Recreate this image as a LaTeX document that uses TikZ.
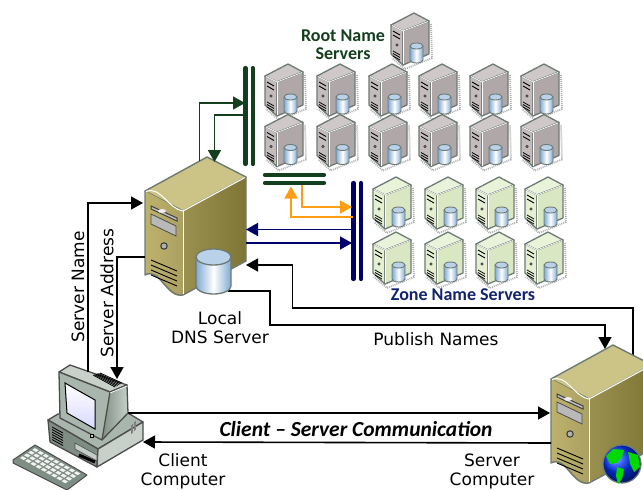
\documentclass[tikz,border=0pt]{standalone}
\usepackage{fontspec}
\setmainfont{DejaVu Sans}
\newfontfamily\headfont{Carlito}
\usetikzlibrary{arrows.meta,calc}
\definecolor{gdark}{HTML}{143F1E}
\definecolor{navyb}{HTML}{00006B}
\definecolor{zonetext}{HTML}{12246E}
\definecolor{orangeb}{HTML}{FF9E14}
\definecolor{edgeg}{HTML}{6E7A74}
\definecolor{tanlight}{HTML}{CBC486}
\definecolor{tanmid}{HTML}{BDB26C}
\definecolor{tandark}{HTML}{7F7636}
\definecolor{tanside}{HTML}{9A9150}
\definecolor{rootA}{HTML}{CFC8C8}
\definecolor{rootB}{HTML}{C4BBBC}
\definecolor{rootC}{HTML}{B0A7A9}
\definecolor{zoneA}{HTML}{E9F3D9}
\definecolor{zoneB}{HTML}{E4F0D1}
\definecolor{zoneC}{HTML}{D9E8C2}
\definecolor{drumL}{HTML}{7FAAD2}
\definecolor{drumT}{HTML}{B9D2EA}
\definecolor{pcg}{HTML}{A9B6AE}
\definecolor{pcl}{HTML}{C7D1CA}
\definecolor{pcd}{HTML}{7F8E85}
\tikzset{
  x=1pt,y=-1pt,
  arr/.style={-{Triangle[length=12pt,width=13pt]},line width=1.6pt,line join=miter},
  plain/.style={line width=1.6pt,line join=miter},
  blackarrow/.style={arr,black},
  greenarrow/.style={arr,gdark},
  orangearrow/.style={arr,orangeb,line width=1.8pt},
  navyarrow/.style={arr,navyb},
  barline/.style={line width=4.2pt,line cap=round},
  label/.style={font=\fontsize{17}{19}\selectfont,align=center,inner sep=0pt},
  headlabel/.style={font=\headfont\bfseries\fontsize{18}{18}\selectfont,align=center,inner sep=0pt},
  pics/smallserver/.style n args={3}{code={
    \draw[gray!60,line width=1.8pt,dash pattern=on 1pt off 1pt] (17,11)--(18,45)--(-9,56)--(-22,45);
    \fill[#1,draw=edgeg,line width=1.3pt,line join=round] (0,0)--(-23,12)--(-11,18)--(15,8)--cycle;
    \fill[#2,draw=edgeg,line width=1.3pt,line join=round] (-23,12)--(-11,18)--(-11,52)--(-23,41)--cycle;
    \fill[#3,draw=edgeg,line width=1.3pt,line join=round] (-11,18)--(15,8)--(15,41)--(-11,52)--cycle;
    \draw[white,line width=.7pt] (-22,12.5)--(-11,18)--(14,8.5);
    \draw[white,line width=.7pt] (-11,18)--(-11,51);
    \draw[black,line width=.9pt] (-21,18)--(-14,22);
    \draw[black,line width=.9pt] (-21,22)--(-14,26);
    \draw[black!80,line width=.6pt,fill=gray] (-17,32) circle (1.2);
    \foreach \k in {38,40.5,43}{\draw[black,line width=.8pt] (-21,\k)--(-14,\k+4);}
    \shade[left color=drumL,right color=drumL,middle color=white] (-4,33)--(-4,47) arc[start angle=180,end angle=0,x radius=6.5,y radius=3] --(9,33)--cycle;
    \draw[edgeg,line width=.9pt] (-4,33)--(-4,47) arc[start angle=180,end angle=0,x radius=6.5,y radius=3] --(9,33);
    \fill[drumT,draw=edgeg,line width=.9pt] (2.5,33) ellipse[x radius=6.5,y radius=3];
  }},
  pics/bigserver/.style={code={
    \fill[tanlight,draw=edgeg,line width=1.4pt,line join=round] (0,0)--(-62,34)--(-24,54)--(39,20)--cycle;
    \shade[left color=tanmid,right color=tanmid!90!black] (-62,34)--(-24,54)--(-24,138) to[out=200,in=20] (-62,118)--cycle;
    \draw[edgeg,line width=1.4pt,line join=round] (-62,34)--(-62,118) to[out=30,in=190] (-24,138);
    \shade[left color=tanside,right color=tandark] (-24,54)--(39,20)--(39,104)--(-24,138)--cycle;
    \draw[edgeg,line width=1.4pt,line join=round] (-24,138)--(39,104)--(39,20);
    \draw[white,line width=1pt] (-61,34.5) to[out=20,in=170] (-24,54)--(38,20.5);
    \draw[white,line width=1pt] (-24,54)--(-24,137);
    \draw[black!75,fill=gray!50,line width=1pt] (-56,49)--(-30,61)--(-30,64)--(-56,52)--cycle;
    \fill[white!85!gray] (-45,54) ellipse[x radius=4,y radius=2];
    \fill[gray!55,draw=black!70,line width=.8pt] (-56,57)--(-31,69)--(-31,79)--(-56,67)--cycle;
    \fill[gray!60,draw=black!80,line width=1pt] (-43,89) circle (3.2);
    \foreach \k in {103,108,113,118}{\draw[black,line width=.9pt] (-56,\k)--(-30,\k+11);}
  }},
}
\begin{document}
\begin{tikzpicture}
\useasboundingbox (0,0) rectangle (643,490);
\fill[white] (0,0) rectangle (643,490);

% Named anchor points
\coordinate (rootbarTop) at (245.5,68);
\coordinate (rootbarBot) at (245.5,164);
\coordinate (rootbarB) at (252.7,68);
\coordinate (rootbarBb) at (252.7,164);
\coordinate (hbarAl) at (265,175);
\coordinate (hbarAr) at (324,175);
\coordinate (hbarBl) at (265,183);
\coordinate (hbarBr) at (324,183);
\coordinate (zbarAt) at (353.5,183);
\coordinate (zbarAb) at (353.5,279);
\coordinate (zbarBt) at (361,183);
\coordinate (zbarBb) at (361,279);

\coordinate (lsTop1) at (199.5,161);
\coordinate (lsTop2) at (214.5,162);
\coordinate (gIn) at (245,103);
\coordinate (gOut) at (245,115);
\coordinate (oOut) at (353,217);
\coordinate (oIn) at (291,186.5);
\coordinate (oOut2) at (302,185);
\coordinate (oIn2) at (352,207);
\coordinate (nOut) at (353,229.5);
\coordinate (nIn) at (246,229.5);
\coordinate (nOut2) at (246,243);
\coordinate (nIn2) at (352,243);
\coordinate (lsRight) at (246,265);
\coordinate (srvTop2) at (633,356);
\coordinate (drumOut) at (228,291);
\coordinate (srvTop) at (605,349);
\coordinate (lsLeft1) at (143,203);
\coordinate (lsLeft2) at (145,257);
\coordinate (pcUp) at (88,372);
\coordinate (pcDown) at (117,379);
\coordinate (pcRight) at (128,413);
\coordinate (srvLeft) at (550,413);
\coordinate (srvLeft2) at (551,443);
\coordinate (pcRight2) at (143,442);

% Connectors under the machines
\draw[plain,black] (292.5,265) -- (292.5,308) -- (633,308) -- (srvTop2);
\draw[blackarrow] (drumOut) -- (270,291) -- (270,325) -- (605,325) -- (srvTop);

% Root name servers
\pic at (414,13) {smallserver={rootA}{rootB}{rootC}};
\foreach \xx in {288,340,392,442,493,544}{
  \pic at (\xx,64) {smallserver={rootA}{rootB}{rootC}};
}
\foreach \xx in {288,340,392,442,493,544}{
  \pic at (\xx,114.5) {smallserver={rootA}{rootB}{rootC}};
}
% Zone name servers
\foreach \yy in {177,232}{
  \foreach \xx in {396,448,499,548}{
    \pic at (\xx,\yy) {smallserver={zoneA}{zoneB}{zoneC}};
  }
}

% Bars
\draw[barline,gdark] (rootbarTop)--(rootbarBot);
\draw[barline,gdark] (rootbarB)--(rootbarBb);
\draw[barline,gdark] (hbarAl)--(hbarAr);
\draw[barline,gdark] (hbarBl)--(hbarBr);
\draw[barline,navyb] (zbarAt)--(zbarAb);
\draw[barline,navyb] (zbarBt)--(zbarBb);

% Local DNS server
\pic at (207,157) {bigserver};
\shade[left color=drumL,right color=drumL,middle color=white] (196,257)--(196,286) arc[start angle=180,end angle=0,x radius=17.5,y radius=8] --(231,257)--cycle;
\draw[edgeg,line width=1.3pt] (196,257)--(196,286) arc[start angle=180,end angle=0,x radius=17.5,y radius=8] --(231,257);
\fill[drumT,draw=edgeg,line width=1.3pt] (213.5,257) ellipse[x radius=17.5,y radius=8];

% Server computer
\pic at (613,345) {bigserver};
\shade[ball color=blue!80!cyan] (622,464) circle (19);
\draw[edgeg,line width=1.2pt] (622,464) circle (19);
\fill[green!85!black] (606,456)--(613,449)--(624,450)--(622,457)--(617,463)--(610,464)--cycle;
\fill[green!85!black] (617,467)--(624,469)--(622,479)--(618,484)--(616,476)--cycle;
\fill[green!85!black] (628,452)--(638,455)--(640,467)--(634,472)--(630,464)--cycle;

% Client computer
\fill[pcg,draw=black!70,line width=1.3pt,line join=round] (48,420)--(58,414)--(128,413)--(143,422)--(98,449)--cycle;
\fill[pcd,draw=black!70,line width=1.3pt,line join=round] (48,420)--(98,449)--(97,467)--(50,442)--cycle;
\fill[pcl,draw=black!70,line width=1.3pt,line join=round] (98,449)--(143,422)--(143,440)--(97,467)--cycle;
\foreach \k in {0,2.5,5,7.5,10,12.5}{\draw[black,line width=.8pt] (52,427+\k)--(63,433+\k);}
\fill[pcg!70,draw=black!70,line width=.6pt] (75,443)--(97,455)--(97,461)--(75,449)--cycle;
\draw[black,line width=3pt] (79,455)--(95,462);
\foreach \k in {0,1.5,3,4.5}{\draw[gray,line width=.8pt] (131+\k,434-\k) -- (131+\k,425-\k);}
% monitor
\fill[pcl,draw=black!70,line width=1.3pt,line join=round] (59,372)--(70,365)--(127,385)--(110,392)--cycle;
\shade[left color=pcd,right color=pcl] (110,392)--(127,385)--(128,413)--(102,440)--cycle;
\draw[black!70,line width=1.3pt,line join=round] (110,392)--(127,385)--(128,413)--(102,440);
\fill[pcg,draw=black!70,line width=1.3pt,line join=round] (59,372)--(110,392)--(102,440)--(60,418)--cycle;
\shade[top color=white,bottom color=blue!15,draw=black,line width=1pt] (65,383)--(95,400)--(95,429)--(67,413)--cycle;
\foreach \k in {0,...,5}{\draw[black,line width=.8pt] (93+1.4*\k,375-.4*\k)--(115+1.4*\k,387-.8*\k);}
\draw[white,line width=.7pt] (110,393)--(127,386);
\draw[black,line width=.7pt,fill=pcl] (90,434) rectangle (93,437);
% keyboard
\fill[pcd,draw=black!70,line width=1pt,line join=round] (13,460)--(35,445)--(87,475)--(67,490)--(13,463)--cycle;
\foreach \i in {0,...,8}{\foreach \j in {0,...,3}{
  \fill[white!90!gray] ($(20,458)+(\i*5.2,\i*2.9)+(\j*4.1,-\j*2.7)$) ++(0,0) -- ++(3.8,2.1) -- ++(2.6,-1.8) -- ++(-3.8,-2.1) -- cycle;
}}

% Arrows
\draw[greenarrow] (lsTop1) -- (199.5,103) -- (gIn);
\draw[greenarrow] (gOut) -- (214.5,115) -- (lsTop2);
\draw[orangearrow] (oOut) -- (291,217) -- (oIn);
\draw[orangearrow] (oOut2) -- (302,207) -- (oIn2);
\draw[navyarrow] (nOut) -- (nIn);
\draw[navyarrow] (nOut2) -- (nIn2);
\draw[blackarrow] (292.5,265) -- (lsRight);
\draw[blackarrow] (pcUp) -- (88,203) -- (lsLeft1);
\draw[blackarrow] (lsLeft2) -- (117,257) -- (pcDown);
\draw[blackarrow] (pcRight) -- (srvLeft);
\draw[blackarrow] (srvLeft2) -- (pcRight2);

% Labels
\node[headlabel,text=gdark] (rootlabel) at (343,45) {Root Name\\Servers};
\node[headlabel,text=zonetext] (zonelabel) at (463,295) {Zone Name Servers};
\node[label] (dnslabel) at (220,328) {Local\\DNS Server};
\node[label] (publabel) at (436,339) {Publish Names};
\node[label,rotate=90] (namelabel) at (78,287) {Server Name};
\node[label,rotate=90] (addrlabel) at (107,293) {Server Address};
\node[label] (clientlabel) at (183,471) {Client\\Computer};
\node[label] (serverlabel) at (492,471) {Server\\Computer};
\node[font=\headfont\bfseries\itshape\fontsize{21.5}{21}\selectfont,inner sep=0pt] (commlabel) at (356,429) {Client – Server Communication};
\end{tikzpicture}
\end{document}
